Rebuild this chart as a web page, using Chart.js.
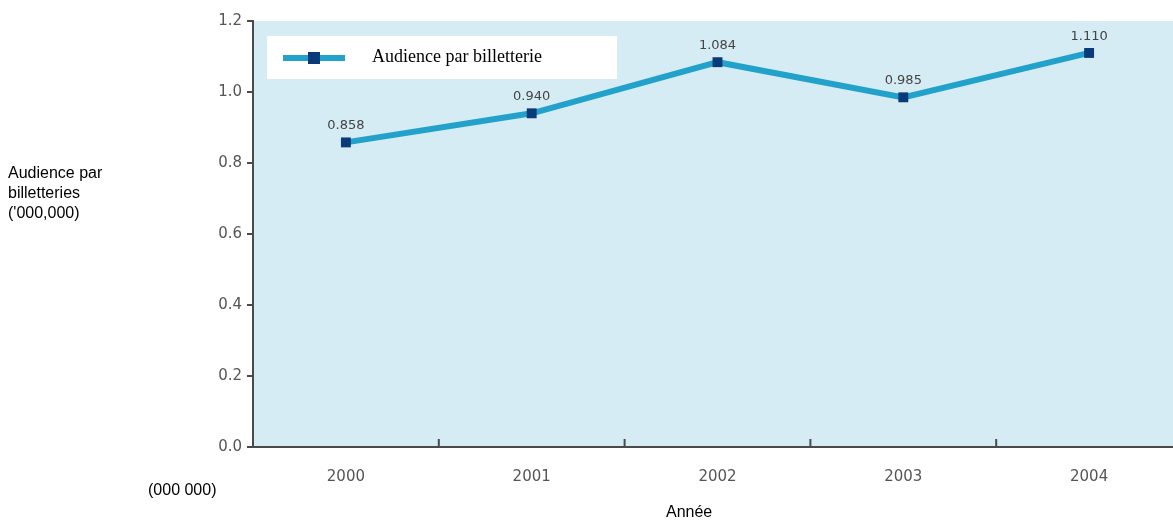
<!DOCTYPE html>
<html>
<head>
<meta charset="utf-8">
<script src="https://cdn.jsdelivr.net/npm/chart.js@4"></script>
<style>
  html, body { margin: 0; padding: 0; background: #fff; overflow: hidden; }
  #wrap { position: relative; width: 1173px; height: 524px; overflow: hidden; }
  canvas { position: absolute; left: 0; top: 0; }
  .lbl { position: absolute; font-family: "Liberation Sans", Arial, sans-serif; font-size: 16px; color: #000; line-height: 20px; }
</style>
</head>
<body>
<div id="wrap">
  <canvas id="chart" width="1189" height="524" style="width:1189px;height:524px;"></canvas>
  <div class="lbl" style="left:8px; top:163px;">Audience par<br>billetteries<br>('000,000)</div>
  <div class="lbl" style="left:148px; top:480px;">(000 000)</div>
  <div class="lbl" style="left:666px; top:502px;">Année</div>
</div>
<script>
// Chart data
const years = ['2000', '2001', '2002', '2003', '2004'];
const audience = [0.858, 0.940, 1.084, 0.985, 1.110];
const valueLabels = ['0.858', '0.940', '1.084', '0.985', '1.110'];
const seriesName = 'Audience par billetterie';

const lineColor = '#22a2ca';
const markerColor = '#0b3a7a';

// light blue plot background
const plotBg = {
    id: 'plotBg',
    beforeDraw(chart) {
        const { ctx, chartArea: a } = chart;
        ctx.save();
        ctx.fillStyle = '#d5ecf4';
        ctx.fillRect(a.left, a.top, a.right - a.left, a.bottom - a.top);
        ctx.restore();
    }
};

// short tick marks between categories, pointing up into the plot
const innerTicks = {
    id: 'innerTicks',
    afterDraw(chart) {
        const { ctx, chartArea: a } = chart;
        const x = chart.scales.x;
        ctx.save();
        ctx.strokeStyle = '#4a4a4a';
        ctx.lineWidth = 2;
        for (let i = 0; i < years.length - 1; i++) {
            const px = (x.getPixelForTick(i) + x.getPixelForTick(i + 1)) / 2;
            ctx.beginPath();
            ctx.moveTo(px, a.bottom);
            ctx.lineTo(px, a.bottom - 8);
            ctx.stroke();
        }
        ctx.restore();
    }
};

// value labels above points + legend box
const extras = {
    id: 'extras',
    afterDatasetsDraw(chart) {
        const { ctx } = chart;
        const meta = chart.getDatasetMeta(0);
        ctx.save();
        ctx.font = '13px "DejaVu Sans", sans-serif';
        ctx.fillStyle = '#444';
        ctx.textAlign = 'center';
        ctx.textBaseline = 'bottom';
        meta.data.forEach((pt, i) => {
            ctx.fillText(valueLabels[i], pt.x, pt.y - 10);
        });

        // legend
        ctx.fillStyle = '#ffffff';
        ctx.fillRect(267, 36, 350, 43);
        ctx.strokeStyle = lineColor;
        ctx.lineWidth = 6;
        ctx.beginPath();
        ctx.moveTo(283, 58);
        ctx.lineTo(345, 58);
        ctx.stroke();
        ctx.fillStyle = markerColor;
        ctx.fillRect(308, 52, 12, 12);
        ctx.fillStyle = '#000';
        ctx.font = '18px "Liberation Serif", "Times New Roman", serif';
        ctx.textAlign = 'left';
        ctx.textBaseline = 'middle';
        ctx.fillText(seriesName, 372, 57);
        ctx.restore();
    }
};

new Chart(document.getElementById('chart'), {
    type: 'line',
    data: {
        labels: years,
        datasets: [{
            label: seriesName,
            data: audience,
            borderColor: lineColor,
            borderWidth: 6,
            pointStyle: 'rect',
            pointRadius: 7,
            pointBackgroundColor: markerColor,
            pointBorderColor: markerColor,
            pointBorderWidth: 0,
            tension: 0
        }]
    },
    options: {
        responsive: false,
        animation: false,
        devicePixelRatio: 1,
        layout: { padding: { top: 21, left: 0, right: 0, bottom: 0 } },
        plugins: {
            legend: { display: false },
            tooltip: { enabled: false }
        },
        scales: {
            x: {
                offset: true,
                grid: { display: false },
                border: { display: true, color: '#4a4a4a', width: 2 },
                ticks: {
                    color: '#555',
                    font: { family: 'DejaVu Sans', size: 15 },
                    padding: 13
                },
                afterFit(scale) { scale.height = 77; }
            },
            y: {
                min: 0,
                max: 1.2,
                ticks: {
                    stepSize: 0.2,
                    color: '#555',
                    font: { family: 'DejaVu Sans', size: 15 },
                    padding: 5,
                    callback: v => v.toFixed(1)
                },
                grid: { drawOnChartArea: false, drawTicks: true, tickLength: 6, color: '#4a4a4a', lineWidth: 2 },
                border: { display: true, color: '#4a4a4a', width: 2 },
                afterFit(scale) { scale.width = 253; }
            }
        }
    },
    plugins: [plotBg, innerTicks, extras]
});
</script>
</body>
</html>
